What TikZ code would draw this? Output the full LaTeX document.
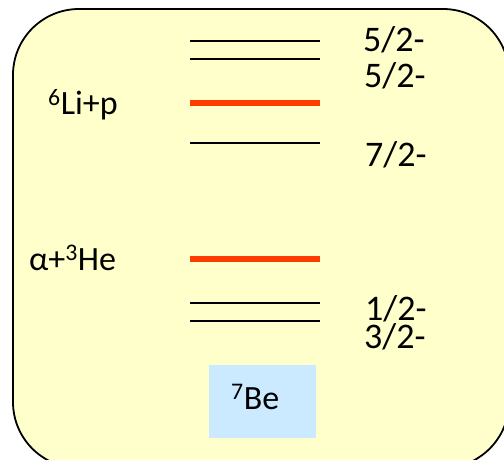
\documentclass[tikz,border=0pt]{standalone}
\usepackage{fontspec}
\setmainfont{Carlito}
\usepackage{tikz}
\usetikzlibrary{positioning,calc}
\definecolor{PaleYellow}{RGB}{255,255,204}
\definecolor{LevelRed}{RGB}{255,60,0}
\definecolor{BeBlue}{RGB}{204,234,255}
\tikzset{
  panel/.style={draw=black,fill=PaleYellow,line width=1.8pt,rounded corners=66pt},
  level/.style={draw=black,line width=1.6pt},
  thresh/.style={draw=LevelRed,line width=6pt},
  spin/.style={anchor=base west,inner sep=0pt,font=\fontsize{36}{38}\selectfont},
  channel/.style={anchor=base west,inner sep=0pt,font=\fontsize{34}{36}\selectfont},
  nucbox/.style={fill=BeBlue,anchor=north west,minimum width=107pt,minimum height=73pt,inner sep=0pt},
}

\begin{document}
\begin{tikzpicture}[x=1pt,y=-1pt]
    \useasboundingbox (0,0) rectangle (504,460);
    \begin{scope}
      \clip (0,0) rectangle (504,460);
      \draw[panel] (13,9) rectangle (509,468);
    \end{scope}
    % levels
    \foreach \y in {41,59,143,303,321}
      \draw[level] (190,\y) -- (320,\y);
    \foreach \y in {103,259}
      \draw[thresh] (190,\y) -- (320,\y);
    % spins
    \node[spin] (j1) at (363,52) {5/2-};
    \node[spin] (j2) at (364,88) {5/2-};
    \node[spin] (j3) at (365,166) {7/2-};
    \node[spin] (j4) at (365,320) {1/2-};
    \node[spin] (j5) at (364,348) {3/2-};
    % channels
    \node[channel] (lip) at (48,115) {\textsuperscript{6}Li+p};
    \node[channel] (ahe) at (29,270) {α+\textsuperscript{3}He};
    % nucleus
    \node[nucbox] (be) at (209,365) {};
    \node[channel] (belabel) at (231,409) {\textsuperscript{7}Be};
  \end{tikzpicture}
\end{document}
